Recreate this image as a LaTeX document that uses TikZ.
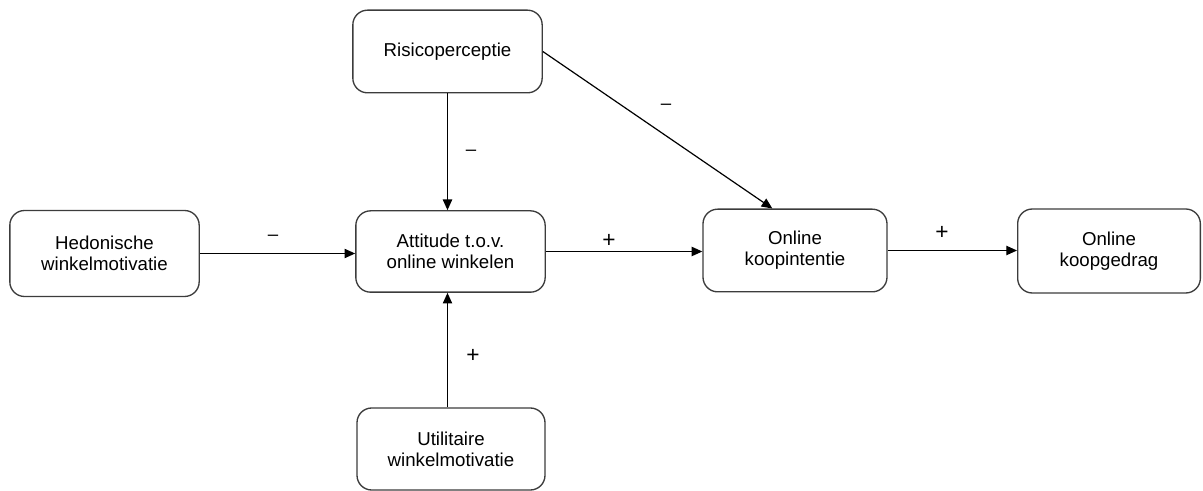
\documentclass[tikz,border=0pt]{standalone}
\usepackage{fontspec}
\setmainfont{Liberation Sans}
\usetikzlibrary{arrows.meta}
\definecolor{boxline}{HTML}{3C3C3C}
\tikzset{
  box/.style={draw=boxline, line width=1pt, rounded corners=11pt, fill=white,
    minimum width=142pt, minimum height=62pt, inner sep=0pt, align=center,
    font=\fontsize{14}{15.5}\selectfont},
  link/.style={line width=0.9pt, -{Triangle[length=8pt,width=7pt]}},
  sign/.style={inner sep=0pt, font=\fontsize{14}{16}\selectfont},
  plus/.style={sign, font=\fontsize{17}{18}\selectfont}
}
\begin{document}
\begin{tikzpicture}[x=0.75pt, y=-0.75pt]
  \useasboundingbox (0,0) rectangle (1203,491);
  % boxes
  \node[box] (risk) at (447.5,51.5) {Risicoperceptie};
  \node[box, minimum height=64.5pt] (hed) at (104.5,253.5) {Hedonische\\winkelmotivatie};
  \node[box, minimum height=61pt] (att) at (450.5,251.5) {Attitude t.o.v.\\online winkelen};
  \node[box, minimum width=138pt] (koopi) at (795,250.5) {Online\\koopintentie};
  \node[box, minimum width=137pt, minimum height=63pt] (koopg) at (1109,251) {Online\\koopgedrag};
  \node[box, minimum width=141pt, minimum height=61.5pt] (util) at (451,449) {Utilitaire\\winkelmotivatie};
  % connectors
  \draw[link] (risk.south) -- (risk.south |- att.north);
  \draw[link] (hed.east) -- (hed.east -| att.west);
  \draw[link] (util.north -| risk.south) -- (risk.south |- att.south);
  \draw[link] (att.east) -- (att.east -| koopi.west);
  \draw[link] (koopi.east) -- (koopi.east -| koopg.west);
  \draw[link] (risk.east) -- ([xshift=-17pt]koopi.north);
  % signs
  \node[sign] (s1) at (273,238) {–};
  \node[plus] (s2) at (609,241) {+};
  \node[plus] (s3) at (942,233) {+};
  \node[sign] (s4) at (471,153) {–};
  \node[plus] (s5) at (473,356) {+};
  \node[sign] (s6) at (666,107) {–};
\end{tikzpicture}
\end{document}
